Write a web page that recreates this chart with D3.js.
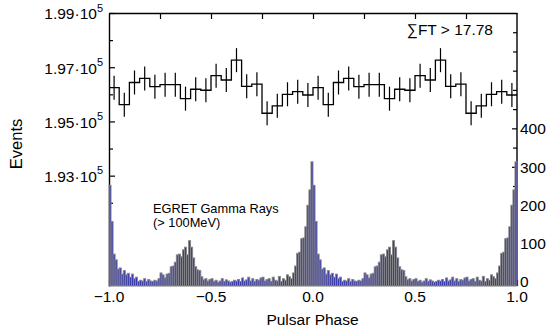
<!DOCTYPE html>
<html><head><meta charset="utf-8">
<script src="https://cdn.jsdelivr.net/npm/d3@7"></script>
<style>
body{margin:0;background:#fff}
svg{display:block}
text{font-family:"Liberation Sans",Arial,Helvetica,sans-serif;fill:#000}
</style>
</head><body>
<svg id="chart" width="551" height="332"></svg>
<script>
// ---- data ----
const phaseTicks = [-1.0, -0.5, 0.0, 0.5, 1.0];
const phaseMinorTicks = [-0.75, -0.25, 0.25, 0.75];
const eventTicks = [193000, 195000, 197000, 199000];
const eventMinorTicks = [192000, 194000, 196000, 198000];
const gammaTicks = [0, 100, 200, 300, 400];
const gammaMinorTicks = [50, 150, 250, 350, 450, 500, 550, 600, 650];
const cycles = [-1, 0];            // the plot shows two pulsar cycles
const eventBinWidth = 0.05;
const eventCounts = [196246, 195619, 196437, 196585, 196282, 196356, 196356, 195840, 196187, 196150,
                     196688, 196529, 197260, 196297, 196374, 195302, 195575, 196002, 196098, 195976];
const eventErrors = [443, 442, 443, 443, 443, 443, 443, 443, 443, 443,
                     443, 443, 444, 443, 443, 442, 442, 443, 443, 443];
const gammaBinWidth = 0.01;
const gammaCounts = [252, 158, 73, 58, 34, 37, 21, 30, 19, 23,
                     13, 21, 9, 13, 2, 5, 3, 9, 2, 7,
                     3, 2, 5, 3, 9, 24, 19, 11, 21, 23,
                     40, 42, 52, 71, 73, 66, 84, 91, 71, 108,
                     91, 63, 40, 32, 30, 14, 6, 9, 3, 7,
                     9, 2, 5, 0, 3, 9, 2, 6, 3, 0,
                     2, 5, 3, 7, 2, 11, 3, 6, 13, 3,
                     9, 2, 7, 5, 11, 13, 3, 7, 9, 2,
                     13, 5, 3, 15, 2, 9, 5, 19, 14, 9,
                     24, 42, 75, 78, 113, 115, 144, 200, 240, 313];
const labels = {x: "Pulsar Phase", y: "Events", cut: "\u2211FT > 17.78",
                legend1: "EGRET Gamma Rays", legend2: "(> 100MeV)"};

// ---- layout ----
const L = 109, R = 517, T = 13, B = 286;
const svg = d3.select("#chart");
const x = d3.scaleLinear().domain([-1, 1]).range([L, R]);
const yL = d3.scaleLinear().domain([188930, 199000]).range([B, T]);
const yR = d3.scaleLinear().domain([-10, 700]).range([B, T]);
const fmtPhase = d => (d < 0 ? "\u2212" : "") + Math.abs(d).toFixed(1);

// bottom ticks (drawn under the histogram)
const gBot = svg.append("g").attr("transform", `translate(0,${B})`)
  .call(d3.axisBottom(x).tickValues(phaseTicks.concat(phaseMinorTicks)).tickSizeInner(-6).tickSizeOuter(0).tickFormat(""));
gBot.select(".domain").remove();
gBot.selectAll("line").attr("stroke", "#000").attr("stroke-width", 1.2);

// left axis
const gLeft = svg.append("g").attr("transform", `translate(${L},0)`)
  .call(d3.axisLeft(yL).tickValues(eventTicks).tickSizeInner(-6).tickSizeOuter(0).tickFormat(""));
gLeft.select(".domain").attr("stroke", "#000").attr("stroke-width", 1.4);
gLeft.selectAll(".tick line").attr("stroke", "#000").attr("stroke-width", 1.2);
svg.append("g").attr("transform", `translate(${L},0)`)
  .call(d3.axisLeft(yL).tickValues(eventMinorTicks).tickSizeInner(-4).tickSizeOuter(0).tickFormat(""))
  .call(g => g.select(".domain").remove())
  .selectAll("line").attr("stroke", "#000").attr("stroke-width", 1.2);
eventTicks.forEach(v => {
  const t = svg.append("text").attr("x", 103).attr("y", yL(v) + 6.3)
    .attr("text-anchor", "end").attr("font-size", 15.5);
  t.append("tspan").text((v / 100000).toFixed(2) + "\u00b710");
  t.append("tspan").attr("dy", -7.5).attr("font-size", 11).text("5");
});

// top axis
const gTop = svg.append("g").attr("transform", `translate(0,${T})`)
  .call(d3.axisTop(x).tickValues(phaseMinorTicks.concat([-0.5, 0, 0.5])).tickSizeInner(-6).tickSizeOuter(0).tickFormat(""));
gTop.select(".domain").attr("stroke", "#000").attr("stroke-width", 1.4);
gTop.selectAll(".tick line").attr("stroke", "#000").attr("stroke-width", 1.2);

// right axis
const gRight = svg.append("g").attr("transform", `translate(${R},0)`)
  .call(d3.axisRight(yR).tickValues(gammaTicks).tickSizeInner(-5).tickSizeOuter(0).tickFormat(""));
gRight.select(".domain").attr("stroke", "#000").attr("stroke-width", 1.4)
  .attr("d", `M0,${T}V${B}`);
gRight.selectAll(".tick line").attr("stroke", "#000").attr("stroke-width", 1.2);
svg.append("g").attr("transform", `translate(${R},0)`)
  .call(d3.axisRight(yR).tickValues(gammaMinorTicks).tickSizeInner(-4).tickSizeOuter(0).tickFormat(""))
  .call(g => g.select(".domain").remove())
  .selectAll("line").attr("stroke", "#000").attr("stroke-width", 1.2);
gammaTicks.forEach(v => {
  svg.append("text").attr("x", 520).attr("y", yR(v) + (v === 0 ? 4.5 : 5.7))
    .attr("font-size", 15.5).text(v);
});

// bottom labels
phaseTicks.forEach(v => {
  svg.append("text").attr("x", x(v)).attr("y", 302)
    .attr("text-anchor", "middle").attr("font-size", 15.5).text(fmtPhase(v));
});

// histogram
const bars = [];
cycles.forEach(c => gammaCounts.forEach((n, k) => bars.push({x0: c + k * gammaBinWidth, n})));
svg.append("g").selectAll("rect").data(bars).join("rect")
  .attr("x", d => x(d.x0))
  .attr("width", d => x(d.x0 + gammaBinWidth) - x(d.x0))
  .attr("y", d => yR(d.n))
  .attr("height", d => B - yR(d.n))
  .attr("fill", "#3b3bae")
  .attr("stroke", "#878787")
  .attr("stroke-width", 0.9);

// step line + error bars
const pts = [];
cycles.forEach(c => eventCounts.forEach((v, i) => pts.push({x0: c + i * eventBinWidth, v, e: eventErrors[i]})));
const stepPts = pts.map(p => [p.x0, p.v]).concat([[1, pts[pts.length - 1].v]]);
svg.append("path")
  .attr("d", d3.line().x(d => x(d[0])).y(d => yL(d[1])).curve(d3.curveStepAfter)(stepPts))
  .attr("fill", "none").attr("stroke", "#000").attr("stroke-width", 1.3);
svg.append("g").selectAll("line").data(pts).join("line")
  .attr("x1", d => x(d.x0 + eventBinWidth / 2)).attr("x2", d => x(d.x0 + eventBinWidth / 2))
  .attr("y1", d => yL(d.v - d.e)).attr("y2", d => yL(d.v + d.e))
  .attr("stroke", "#000").attr("stroke-width", 1.2);

// titles and annotations
svg.append("text").attr("transform", "translate(22,144) rotate(-90)")
  .attr("text-anchor", "middle").attr("font-size", 16.5).text(labels.y);
svg.append("text").attr("x", 312.5).attr("y", 325)
  .attr("text-anchor", "middle").attr("font-size", 15.5).text(labels.x);
svg.append("text").attr("x", 493).attr("y", 35)
  .attr("text-anchor", "end").attr("font-size", 15.5).text(labels.cut);
svg.append("text").attr("x", 153).attr("y", 212.5).attr("font-size", 12.8).text(labels.legend1);
svg.append("text").attr("x", 153).attr("y", 227).attr("font-size", 12.8).text(labels.legend2);
</script>
</body></html>
